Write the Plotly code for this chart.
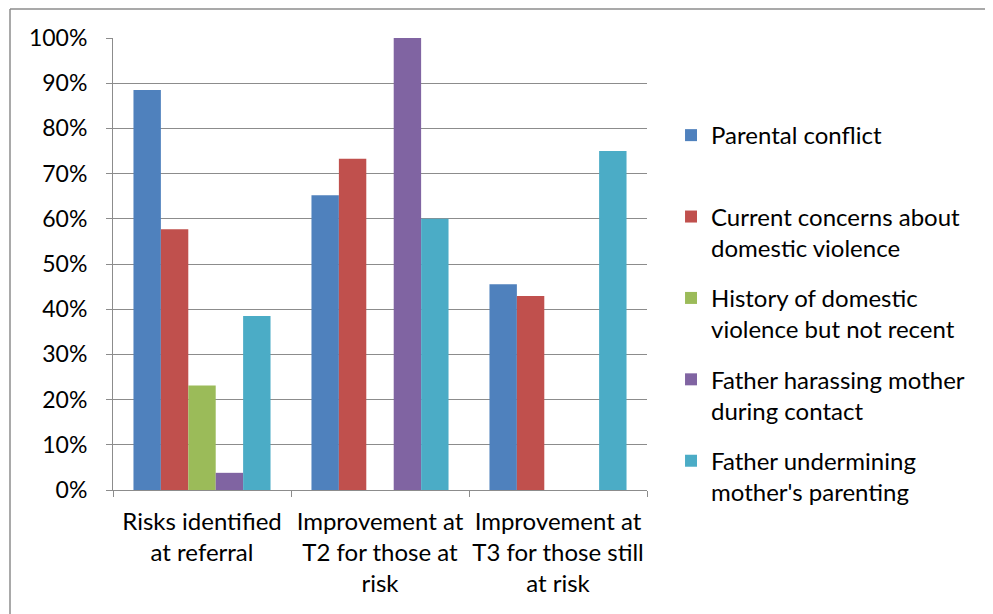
import plotly.graph_objects as go

CATEGORIES = [
    "Risks identified<br>at referral",
    "Improvement at<br>T2 for those at<br>risk",
    "Improvement at<br>T3 for those still<br>at risk",
]

SERIES_NAMES = [
    "Parental conflict<br> ",
    "Current concerns about<br>domestic violence",
    "History of domestic<br>violence but not recent",
    "Father harassing mother<br>during contact",
    "Father undermining<br>mother's parenting",
]

PARENTAL_CONFLICT = [0.885, 0.652, 0.455]
CURRENT_DV = [0.577, 0.733, 0.429]
HISTORY_DV = [0.231, 0.0, 0.0]
FATHER_HARASSING = [0.038, 1.0, 0.0]
FATHER_UNDERMINING = [0.385, 0.60, 0.75]

COLORS = ["#4F81BD", "#C0504D", "#9BBB59", "#8064A2", "#4BACC6"]
FONT = "Lato"

# page body has an 8px margin, so the figure is placed at (8, 8)
L, T, PW, PH = 105, 30, 534, 452

fig = go.Figure()
series_values = [PARENTAL_CONFLICT, CURRENT_DV, HISTORY_DV, FATHER_HARASSING, FATHER_UNDERMINING]
for i, (name, values, color) in enumerate(zip(SERIES_NAMES, series_values, COLORS)):
    fig.add_trace(go.Bar(
        x=CATEGORIES,
        y=values,
        name=name,
        legendgroup=f"g{i}",
        marker=dict(color=color, line=dict(width=0)),
    ))

fig.update_layout(
    width=993,
    height=614,
    barmode="group",
    bargap=0.23,
    bargroupgap=0,
    plot_bgcolor="white",
    paper_bgcolor="white",
    font=dict(family=FONT, size=24, color="black"),
    margin=dict(l=L, r=993 - L - PW, t=T, b=614 - T - PH, pad=0),
    legend=dict(
        x=1.045, xanchor="left",
        y=0.834, yanchor="top",
        valign="top",
        traceorder="grouped",
        tracegroupgap=16,
        font=dict(family=FONT, size=24),
    ),
    shapes=[
        dict(type="line", xref="paper", yref="paper",
             x0=(2 - L) / PW, x1=(1000 - L) / PW,
             y0=(T + PH - 1) / PH, y1=(T + PH - 1) / PH,
             line=dict(color="#8C8C8C", width=1.5)),
        dict(type="line", xref="paper", yref="paper",
             x0=(2 - L) / PW, x1=(2 - L) / PW,
             y0=(T + PH - 1) / PH, y1=-0.4,
             line=dict(color="#8C8C8C", width=1.5)),
    ],
)

fig.update_yaxes(
    range=[0, 1],
    tickvals=[i / 10 for i in range(11)],
    tickformat=".0%",
    tickfont=dict(size=23),
    showgrid=True,
    gridcolor="#8C8C8C",
    gridwidth=1,
    showline=True,
    linecolor="#8C8C8C",
    linewidth=1,
    ticks="outside",
    ticklen=6,
    tickcolor="#8C8C8C",
    ticklabelstandoff=14,
    zeroline=False,
)
fig.update_xaxes(
    showline=True,
    linecolor="#8C8C8C",
    linewidth=1,
    ticks="outside",
    tickson="boundaries",
    ticklen=6,
    tickcolor="#8C8C8C",
    ticklabelstandoff=10,
    showgrid=False,
    tickangle=0,
    tickfont=dict(size=24),
)

fig.write_html("out.html")
